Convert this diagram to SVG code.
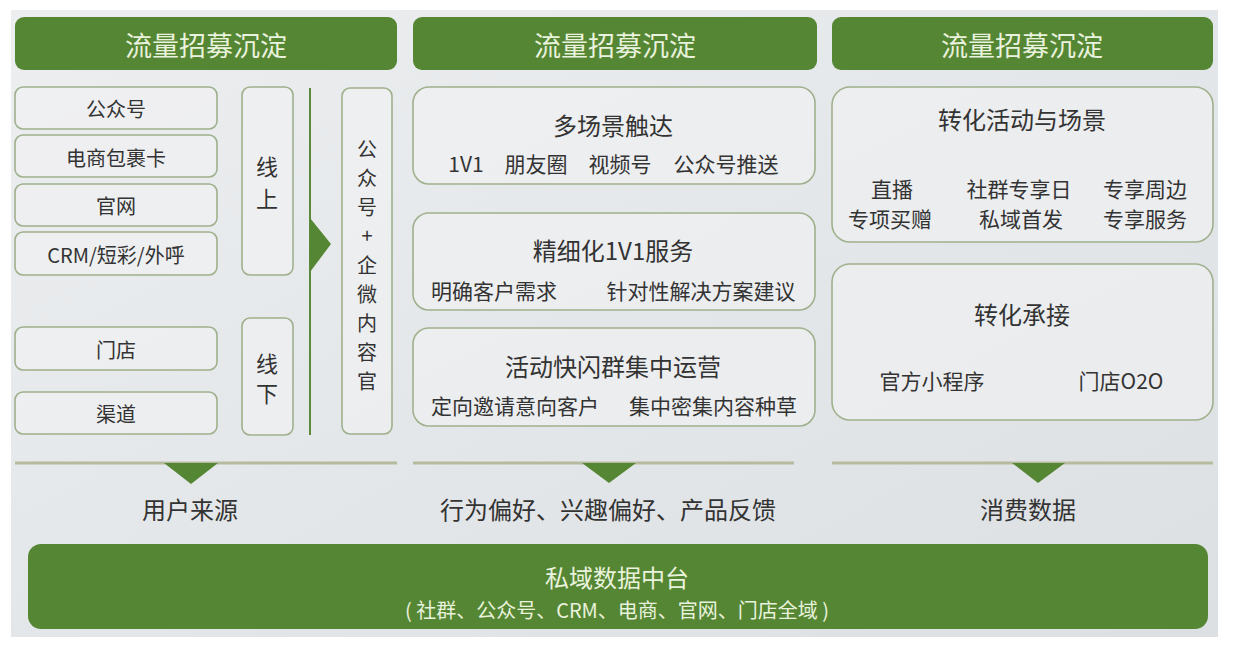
<svg xmlns="http://www.w3.org/2000/svg" width="1233" height="645" viewBox="0 0 1233 645">
<defs>
<linearGradient id="bg" x1="0" y1="0" x2="1" y2="1">
<stop offset="0" stop-color="#eceef0"/>
<stop offset="0.5" stop-color="#e4e7e9"/>
<stop offset="1" stop-color="#dde0e3"/>
</linearGradient>
<style>
.hdr{fill:#558634}
.hdrt{fill:#e9f2dc;font-family:"Noto Sans CJK SC","Liberation Sans",sans-serif;font-size:27px;text-anchor:middle;dominant-baseline:central}
.sbox{fill:#f1f2f3;fill-opacity:0.6;stroke:#9fb08c;stroke-width:1.6}
.t{fill:#333;font-family:"Noto Sans CJK SC","Liberation Sans",sans-serif;text-anchor:middle;dominant-baseline:central}
.s20{font-size:20px}
.s21{font-size:21px}
.s22{font-size:22px}
.s24{font-size:24px}
.gline{stroke:#5a8a3a;stroke-width:2}
.div{stroke:#b6bb9f;stroke-width:3}
.tri{fill:#558634}
.bart{fill:#e9f2dc;font-family:"Noto Sans CJK SC","Liberation Sans",sans-serif;text-anchor:middle;dominant-baseline:central}
</style>
</defs>
<rect x="0" y="0" width="1233" height="645" fill="#ffffff"/>
<rect x="11" y="10" width="1207" height="627" fill="url(#bg)"/>

<g id="header1"><rect class="hdr" x="15" y="17" width="382" height="53" rx="9"/><text class="hdrt" x="206" y="44">流量招募沉淀</text></g>
<g id="header2"><rect class="hdr" x="413" y="17" width="404" height="53" rx="9"/><text class="hdrt" x="615" y="44">流量招募沉淀</text></g>
<g id="header3"><rect class="hdr" x="832" y="17" width="381" height="53" rx="9"/><text class="hdrt" x="1022" y="44">流量招募沉淀</text></g>

<g id="src-gzh"><rect class="sbox" x="15" y="87" width="202" height="42" rx="8"/><text class="t s20" x="116" y="108">公众号</text></g>
<g id="src-ds"><rect class="sbox" x="15" y="135" width="202" height="42" rx="8"/><text class="t s20" x="116" y="157">电商包裹卡</text></g>
<g id="src-gw"><rect class="sbox" x="15" y="184" width="202" height="42" rx="8"/><text class="t s20" x="116" y="205">官网</text></g>
<g id="src-crm"><rect class="sbox" x="15" y="232" width="202" height="43" rx="8"/><text class="t s20" x="116" y="254">CRM/短彩/外呼</text></g>
<g id="src-md"><rect class="sbox" x="15" y="327" width="202" height="43" rx="8"/><text class="t s20" x="116" y="349">门店</text></g>
<g id="src-qd"><rect class="sbox" x="15" y="392" width="202" height="42" rx="8"/><text class="t s20" x="116" y="413">渠道</text></g>

<g id="online"><rect class="sbox" x="242" y="87" width="51" height="188" rx="8"/><text class="t s22" x="267" y="165">线</text><text class="t s22" x="267" y="197">上</text></g>
<g id="offline"><rect class="sbox" x="242" y="318" width="51" height="117" rx="8"/><text class="t s22" x="267" y="362">线</text><text class="t s22" x="267" y="392">下</text></g>

<g id="connectors">
<line class="gline" x1="310" y1="88" x2="310" y2="435"/>
<polygon class="tri" points="310,218 331,244 310,272"/>
<line class="div" x1="15" y1="463" x2="397" y2="463"/>
<line class="div" x1="413" y1="463" x2="794" y2="463"/>
<line class="div" x1="832" y1="463" x2="1213" y2="463"/>
<polygon class="tri" points="164,463 218,463 191,484"/>
<polygon class="tri" points="582,463 636,463 609,483"/>
<polygon class="tri" points="1012,463 1065,463 1038,483"/>
</g>

<g id="qwnrg"><rect class="sbox" x="342" y="88" width="50" height="346" rx="8"/>
<text class="t s20" x="367" y="148">公</text>
<text class="t s20" x="367" y="177">众</text>
<text class="t s20" x="367" y="206">号</text>
<text class="t s20" x="367" y="234">+</text>
<text class="t s20" x="367" y="264">企</text>
<text class="t s20" x="367" y="293">微</text>
<text class="t s20" x="367" y="322">内</text>
<text class="t s20" x="367" y="351">容</text>
<text class="t s20" x="367" y="380">官</text>
</g>

<g id="touch"><rect class="sbox" x="413" y="87" width="402" height="97" rx="16"/>
<text class="t s24" x="613" y="124">多场景触达</text>
<text class="t s21" x="466" y="163">1V1</text>
<text class="t s21" x="536" y="163">朋友圈</text>
<text class="t s21" x="620" y="163">视频号</text>
<text class="t s21" x="726" y="163">公众号推送</text>
</g>
<g id="service"><rect class="sbox" x="413" y="213" width="402" height="97" rx="16"/>
<text class="t s24" x="613" y="249">精细化1V1服务</text>
<text class="t s21" x="494" y="290">明确客户需求</text>
<text class="t s21" x="701" y="290">针对性解决方案建议</text>
</g>
<g id="flash"><rect class="sbox" x="413" y="328" width="402" height="98" rx="16"/>
<text class="t s24" x="613" y="365">活动快闪群集中运营</text>
<text class="t s21" x="515" y="405">定向邀请意向客户</text>
<text class="t s21" x="713" y="405">集中密集内容种草</text>
</g>

<g id="activity"><rect class="sbox" x="832" y="87" width="381" height="155" rx="18"/>
<text class="t s24" x="1022" y="118">转化活动与场景</text>
<text class="t s21" x="892" y="188">直播</text>
<text class="t s21" x="1019" y="188">社群专享日</text>
<text class="t s21" x="1145" y="188">专享周边</text>
<text class="t s21" x="890" y="218">专项买赠</text>
<text class="t s21" x="1021" y="218">私域首发</text>
<text class="t s21" x="1145" y="218">专享服务</text>
</g>
<g id="accept"><rect class="sbox" x="832" y="264" width="381" height="156" rx="18"/>
<text class="t s24" x="1022" y="313">转化承接</text>
<text class="t s21" x="932" y="380">官方小程序</text>
<text class="t s21" x="1121" y="380">门店O2O</text>
</g>

<g id="label1"><text class="t s24" x="190" y="508">用户来源</text></g>
<g id="label2"><text class="t s24" x="608" y="508">行为偏好、兴趣偏好、产品反馈</text></g>
<g id="label3"><text class="t s24" x="1028" y="508">消费数据</text></g>

<g id="platform"><rect class="hdr" x="28" y="544" width="1180" height="85" rx="13"/>
<text class="bart" x="617" y="576" font-size="24">私域数据中台</text>
<text class="bart" x="617" y="609" font-size="20">( 社群、公众号、CRM、电商、官网、门店全域 )</text>
</g>
</svg>
